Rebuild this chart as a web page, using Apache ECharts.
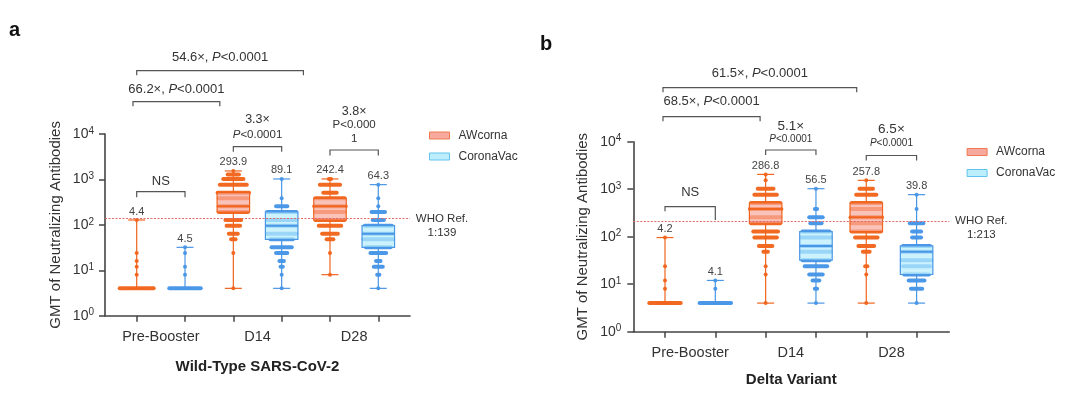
<!DOCTYPE html>
<html><head><meta charset="utf-8">
<script src="https://cdn.jsdelivr.net/npm/echarts@6/dist/echarts.min.js"></script>
<style>html,body{margin:0;padding:0;background:#fff}#c{width:1080px;height:404px}</style>
</head><body><div id="c"></div>
<script>
// ---------------- data ----------------
const categories = ['Pre-Booster', 'D14', 'D28'];
const vaccines = ['AWcorna', 'CoronaVac'];
const panelLetters = ['a', 'b'];
const panelTitles = ['Wild-Type SARS-CoV-2', 'Delta Variant'];
const yAxisTitle = 'GMT of Neutralizing Antibodies';
const whoRefTiters = [139, 213];

// box stats per timepoint: [min, Q1, median, Q3, max]
const wtAwcornaBox = [[4, 4, 4, 4, 128], [4, 192, 256, 512, 1536], [8, 128, 256, 384, 1024]];
const wtCoronavacBox = [[4, 4, 4, 4, 32], [4, 48, 96, 192, 1024], [4, 32, 64, 96, 768]];
const deltaAwcornaBox = [[4, 4, 4, 4, 96], [4, 192, 384, 512, 2048], [4, 128, 256, 512, 1536]];
const deltaCoronavacBox = [[4, 4, 4, 4, 12], [4, 32, 64, 128, 1024], [4, 16, 48, 64, 768]];

// GMT labels
const wtAwcornaGmt = [4.4, 293.9, 242.4];
const wtCoronavacGmt = [4.5, 89.1, 64.3];
const deltaAwcornaGmt = [4.2, 286.8, 257.8];
const deltaCoronavacGmt = [4.1, 56.5, 39.8];

// individual titers: [titer, number of participants]
const wtAwcornaPoints = [
  [[4, 17], [8, 1], [12, 1], [16, 1], [24, 1], [128, 1]],
  [[4, 1], [24, 1], [48, 3], [64, 5], [96, 7], [128, 8], [192, 14], [256, 14], [384, 14], [512, 15], [768, 13], [1024, 10], [1280, 6], [1536, 1]],
  [[8, 1], [24, 1], [48, 4], [64, 8], [96, 11], [128, 14], [192, 14], [256, 15], [384, 14], [512, 7], [768, 10], [1024, 2]]
];
const wtCoronavacPoints = [
  [[4, 15], [8, 1], [12, 1], [24, 1], [32, 1]],
  [[4, 1], [8, 1], [12, 2], [16, 3], [24, 6], [32, 10], [48, 11], [64, 14], [96, 14], [128, 14], [192, 14], [256, 6], [384, 1], [1024, 1]],
  [[4, 1], [8, 2], [12, 5], [16, 3], [24, 8], [32, 12], [48, 14], [64, 14], [96, 13], [128, 6], [192, 7], [256, 1], [384, 1], [768, 1]]
];
const deltaAwcornaPoints = [
  [[4, 15], [8, 1], [12, 1], [24, 1], [96, 1]],
  [[4, 1], [16, 1], [24, 1], [48, 3], [64, 7], [96, 11], [128, 12], [192, 14], [256, 14], [384, 15], [512, 14], [768, 11], [1024, 8], [1536, 1], [2048, 1]],
  [[4, 1], [16, 1], [24, 2], [48, 4], [64, 8], [96, 11], [128, 14], [192, 14], [256, 15], [384, 14], [512, 14], [768, 10], [1024, 7], [1536, 1]]
];
const deltaCoronavacPoints = [
  [[4, 15], [8, 1], [12, 1]],
  [[4, 1], [8, 2], [12, 4], [16, 7], [24, 11], [32, 13], [48, 14], [64, 14], [96, 14], [128, 13], [192, 6], [256, 7], [384, 2], [1024, 1]],
  [[4, 1], [8, 6], [12, 8], [16, 12], [24, 13], [32, 14], [48, 14], [64, 13], [96, 5], [128, 5], [192, 7], [384, 1], [768, 1]]
];

// comparison annotation texts
const wtComparisonTexts = [
  ['54.6×, {i|P}<0.0001'], ['66.2×, {i|P}<0.0001'], ['3.3×', '{i|P}<0.0001'], ['3.8×', 'P<0.000', '1'], ['NS']
];
const deltaComparisonTexts = [
  ['61.5×, {i|P}<0.0001'], ['68.5×, {i|P}<0.0001'], ['5.1×', '{i|P}<0.0001'], ['6.5×', '{i|P}<0.0001'], ['NS']
];

// ---------------- layout / style ----------------
const FF = 'Liberation Sans, Arial, Helvetica, sans-serif';
const PAL = [
  { line: '#F0641E', dot: '#F26A22', fill: 'rgba(247,172,160,0.72)', legFill: '#F6AA9E', legLine: '#EE7A50' },
  { line: '#4A96E6', dot: '#4C98E8', fill: 'rgba(184,238,252,0.72)', legFill: '#BDEEFC', legLine: '#62C3EE' }
];
// bracket layout: span in axis units, bracket offset from top of y axis (px), legs, text offsets & sizes
const bracketLayouts = [
  [
    { from: 0, to: 3.45, dy: -63.3, legL: 4.5, legR: 4.5, tdy: [-13], fs: [13] },
    { from: -0.077, to: 1.72, dy: -32.3, legL: 4.5, legR: 4.5, tdy: [-12.4], fs: [13] },
    { from: 2, to: 3, dy: 12.7, legL: 5, legR: 5, tdy: [-26.7, -11.7], fs: [12.5, 11.5] },
    { from: 4, to: 5, dy: 16, legL: 5.5, legR: 5.5, tdy: [-38.3, -25, -10.7], fs: [12.5, 11.5, 11.5] },
    { from: 0, to: 1, dy: 57.7, legL: 5.5, legR: 5.5, tdy: [-10.7], fs: [13] }
  ],
  [
    { from: -0.04, to: 3.81, dy: -54, legL: 4.5, legR: 4.5, tdy: [-14.4], fs: [13] },
    { from: -0.04, to: 1.89, dy: -25, legL: 4.5, legR: 4.5, tdy: [-15], fs: [13] },
    { from: 2, to: 3, dy: 8.3, legL: 5, legR: 5, tdy: [-24, -10.7], fs: [13.5, 10] },
    { from: 4, to: 5, dy: 13.8, legL: 5, legR: 5, tdy: [-26.2, -12.2], fs: [13.5, 10] },
    { from: 0, to: 1, dy: 65, legL: 4.5, legR: 13.3, tdy: [-14], fs: [13] }
  ]
];
const grids = [
  { left: 105, top: 134, width: 305, height: 181.7 },
  { left: 633.3, top: 141.7, width: 316, height: 190 }
];
const xExtents = [[-0.656, 5.656], [-0.63, 5.65]];

function stripeSeries(name, gi, points, vi) {
  const data = [];
  points.forEach((grp, c) => grp.forEach(([v, n]) => data.push([c * 2 + vi, v, n])));
  const color = PAL[vi].dot;
  return {
    type: 'custom', name, xAxisIndex: gi, yAxisIndex: gi, z: 2, silent: true,
    data, encode: { x: 0, y: 1 },
    renderItem(params, api) {
      const p = api.coord([api.value(0), api.value(1)]);
      const n = api.value(2);
      const w = Math.min(4 + (n - 1) * 2.25, 38);
      return { type: 'rect', shape: { x: p[0] - w / 2, y: p[1] - 2, width: w, height: 4, r: 2 }, style: { fill: color } };
    }
  };
}

function boxSeries(name, gi, boxes, gmts, vi, who) {
  const pal = PAL[vi];
  const s = {
    type: 'custom', name, xAxisIndex: gi, yAxisIndex: gi, z: 3, silent: true,
    data: boxes.map((b, c) => [c * 2 + vi].concat(b, [gmts[c]])),
    encode: { x: 0, y: [1, 2, 3, 4, 5] },
    renderItem(params, api) {
      const x = api.value(0);
      const cx = api.coord([x, api.value(1)])[0];
      const y = i => api.coord([x, api.value(i)])[1];
      const yMin = y(1), yQ1 = y(2), yMed = y(3), yQ3 = y(4), yMax = y(5);
      const bw = 32.5, cw = 17;
      const ls = { stroke: pal.line, lineWidth: 1.2 };
      const ch = [
        { type: 'line', shape: { x1: cx, y1: yMin, x2: cx, y2: yQ1 }, style: ls },
        { type: 'line', shape: { x1: cx, y1: yQ3, x2: cx, y2: yMax }, style: ls },
        { type: 'line', shape: { x1: cx - cw / 2, y1: yMin, x2: cx + cw / 2, y2: yMin }, style: ls },
        { type: 'line', shape: { x1: cx - cw / 2, y1: yMax, x2: cx + cw / 2, y2: yMax }, style: ls }
      ];
      if (yQ1 - yQ3 > 0.5) {
        ch.push({ type: 'rect', shape: { x: cx - bw / 2, y: yQ3, width: bw, height: yQ1 - yQ3 }, style: { fill: pal.fill, stroke: pal.line, lineWidth: 1.2 } });
        ch.push({ type: 'line', shape: { x1: cx - bw / 2, y1: yMed, x2: cx + bw / 2, y2: yMed }, style: { stroke: pal.line, lineWidth: 2 } });
      }
      ch.push({ type: 'text', style: { text: api.value(6).toFixed(1), x: cx, y: yMax - 8.5, align: 'center', verticalAlign: 'middle', fontSize: 11, fontFamily: FF, fill: '#444' } });
      return { type: 'group', children: ch };
    }
  };
  if (who != null) {
    s.markLine = {
      silent: true, symbol: 'none', animation: false,
      data: [{ yAxis: who }],
      lineStyle: { color: '#E06A6A', type: [2, 1.5], width: 1 },
      label: {
        position: 'end', distance: gi === 0 ? 6 : 5,
        formatter: '{w|WHO Ref.}\n{w|1:' + who + '}',
        padding: [14, 0, 0, 0],
        rich: { w: { width: gi === 0 ? 52 : 54, align: 'center', fontSize: 11.5, lineHeight: 14, fontFamily: FF, color: '#333' } }
      }
    };
  }
  return s;
}

function annotationSeries(gi, texts) {
  const lay = bracketLayouts[gi];
  return {
    type: 'custom', xAxisIndex: gi, yAxisIndex: gi, z: 5, silent: true,
    data: lay.map(b => [b.from, b.to, 10000]),
    encode: { x: [0, 1], y: 2 },
    renderItem(params, api) {
      const b = lay[params.dataIndex];
      const p1 = api.coord([api.value(0), api.value(2)]);
      const p2 = api.coord([api.value(1), api.value(2)]);
      const yb = p1[1] + b.dy;
      const ls = { stroke: '#555', lineWidth: 1.2 };
      const ch = [
        { type: 'polyline', shape: { points: [[p1[0], yb + b.legL], [p1[0], yb], [p2[0], yb], [p2[0], yb + b.legR]] }, style: Object.assign({ fill: null }, ls) }
      ];
      const cx = (p1[0] + p2[0]) / 2;
      texts[params.dataIndex].forEach((t, k) => {
        const fs = b.fs[k];
        ch.push({ type: 'text', style: {
          text: t, x: cx, y: yb + b.tdy[k], align: 'center', verticalAlign: 'middle',
          fontSize: fs, fontFamily: FF, fill: '#333',
          rich: { i: { fontStyle: 'italic', fontSize: fs, fontFamily: FF, fill: '#333' } }
        } });
      });
      return { type: 'group', children: ch };
    }
  };
}

function xAxis(gi) {
  return {
    gridIndex: gi, type: 'value', min: xExtents[gi][0], max: xExtents[gi][1],
    axisLine: { show: true, onZero: false, lineStyle: { color: '#444', width: 1.6 } },
    axisTick: { show: true, customValues: [0, 1, 2, 3, 4, 5], length: 6, lineStyle: { color: '#444', width: 1.5 } },
    axisLabel: { show: true, customValues: [0.5, 2.5, 4.5], formatter: v => categories[Math.round((v - 0.5) / 2)] || '', margin: 14, fontSize: 14.5, color: '#333', fontFamily: FF },
    splitLine: { show: false },
    name: panelTitles[gi], nameLocation: 'middle', nameGap: gi === 0 ? 44 : 41,
    nameTextStyle: { fontWeight: 'bold', fontSize: 15, color: '#222', fontFamily: FF }
  };
}
function yAxis(gi) {
  return {
    gridIndex: gi, type: 'log', logBase: 10, min: 1, max: 10000,
    axisLine: { show: true, onZero: false, lineStyle: { color: '#444', width: 1.6 } },
    axisTick: { show: true, length: 6, lineStyle: { color: '#444', width: 1.5 } },
    minorTick: { show: false }, splitLine: { show: false }, minorSplitLine: { show: false },
    axisLabel: {
      margin: gi === 0 ? 11 : 12,
      formatter: v => '{b|10}{s|' + Math.round(Math.log10(v)) + '}',
      rich: {
        b: { fontSize: 14, lineHeight: 16, color: '#333', fontFamily: FF },
        s: { fontSize: 10, lineHeight: 10, verticalAlign: 'top', color: '#333', fontFamily: FF }
      }
    },
    name: yAxisTitle, nameLocation: 'middle', nameGap: gi === 0 ? 41.5 : 43,
    nameTextStyle: { fontSize: 15, color: '#333', fontFamily: FF }
  };
}
function legend(gi) {
  return {
    orient: 'vertical', left: gi === 0 ? 429 : 966.6, top: gi === 0 ? 129.5 : 146, padding: 0,
    itemWidth: 20, itemHeight: 7, itemGap: 9, icon: 'rect', selectedMode: false,
    textStyle: { fontSize: 12, color: '#333', fontFamily: FF, padding: [0, 0, 0, 4] },
    data: vaccines.map((v, vi) => ({ name: v, itemStyle: { color: PAL[vi].legFill, borderColor: PAL[vi].legLine, borderWidth: 1 } }))
  };
}

const chart = echarts.init(document.getElementById('c'), null, { renderer: 'canvas' });
chart.setOption({
  animation: false,
  textStyle: { fontFamily: FF },
  grid: grids.map(g => Object.assign({ containLabel: false, outerBoundsMode: 'none' }, g)),
  xAxis: [xAxis(0), xAxis(1)],
  yAxis: [yAxis(0), yAxis(1)],
  legend: [legend(0), legend(1)],
  graphic: [
    { type: 'text', left: 9, top: 20, style: { text: panelLetters[0], font: 'bold 20px ' + FF, fill: '#111' } },
    { type: 'text', left: 540, top: 34, style: { text: panelLetters[1], font: 'bold 20px ' + FF, fill: '#111' } }
  ],
  series: [
    stripeSeries(vaccines[0], 0, wtAwcornaPoints, 0),
    stripeSeries(vaccines[1], 0, wtCoronavacPoints, 1),
    boxSeries(vaccines[0], 0, wtAwcornaBox, wtAwcornaGmt, 0, whoRefTiters[0]),
    boxSeries(vaccines[1], 0, wtCoronavacBox, wtCoronavacGmt, 1, null),
    annotationSeries(0, wtComparisonTexts),
    stripeSeries(vaccines[0], 1, deltaAwcornaPoints, 0),
    stripeSeries(vaccines[1], 1, deltaCoronavacPoints, 1),
    boxSeries(vaccines[0], 1, deltaAwcornaBox, deltaAwcornaGmt, 0, whoRefTiters[1]),
    boxSeries(vaccines[1], 1, deltaCoronavacBox, deltaCoronavacGmt, 1, null),
    annotationSeries(1, deltaComparisonTexts)
  ]
});
</script>
</body></html>
